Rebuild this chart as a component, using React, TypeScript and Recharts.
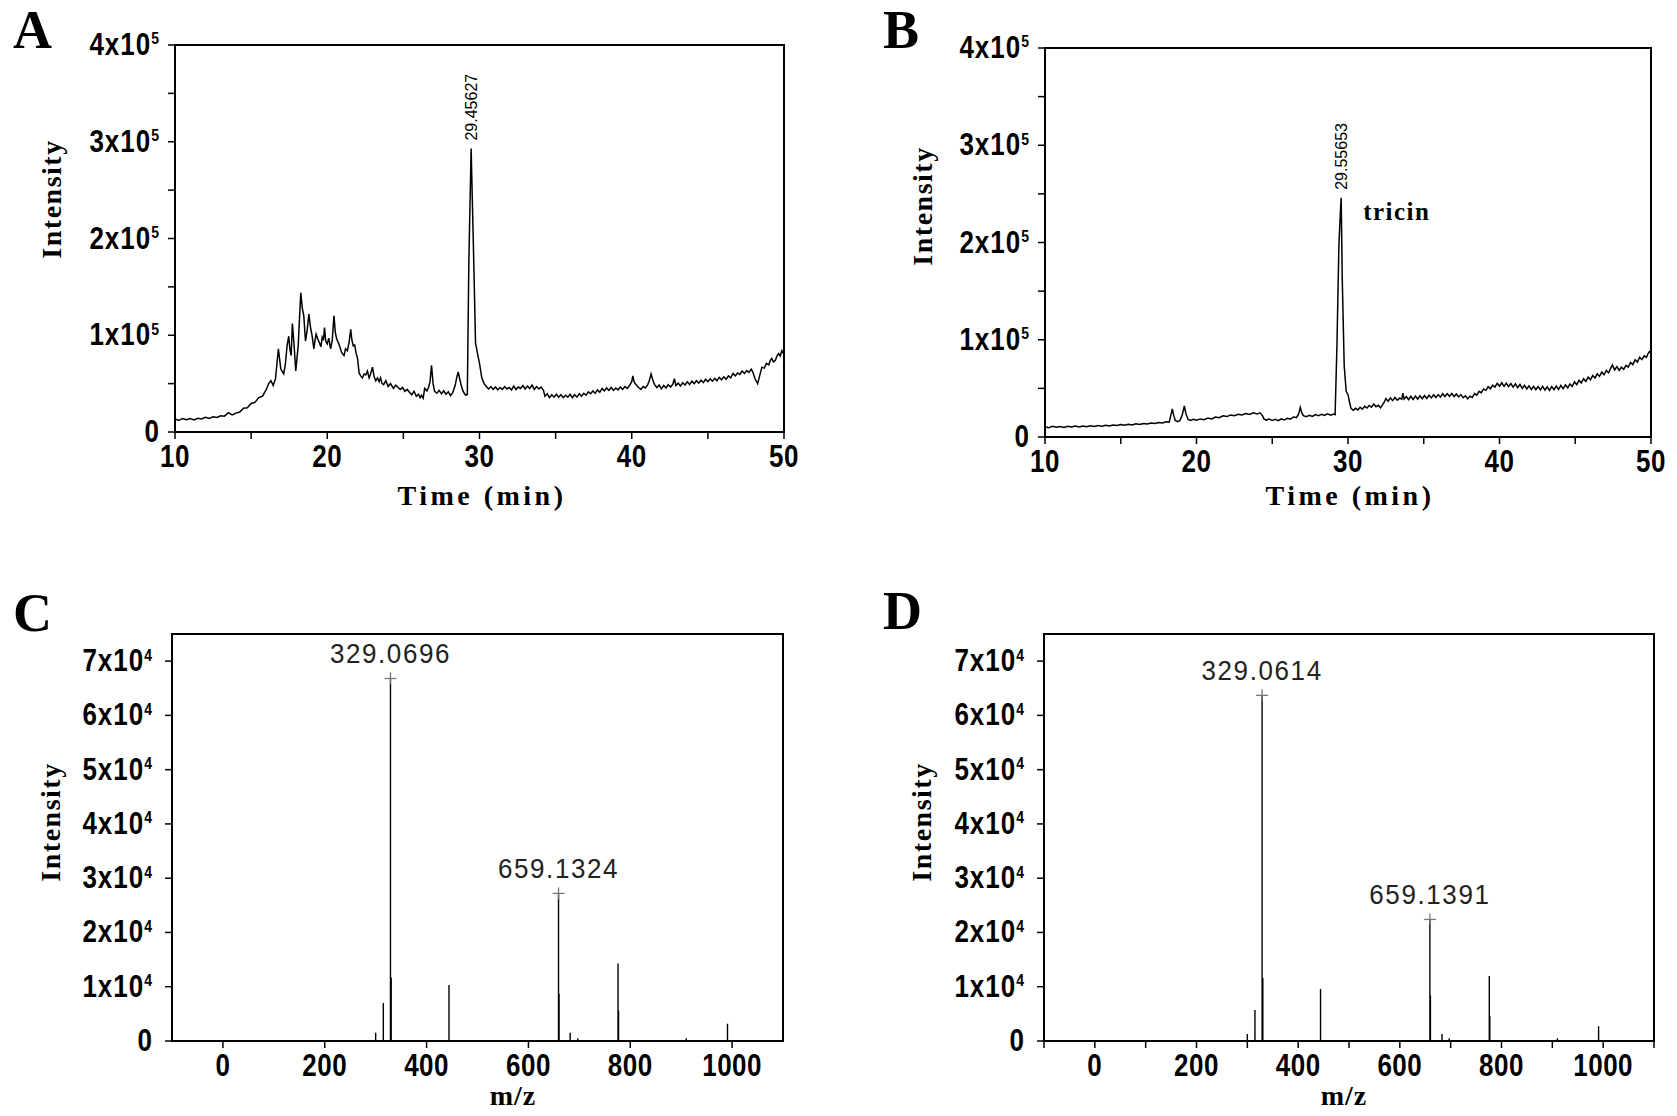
import React from "react"
import { LineChart, Line, XAxis, YAxis, ReferenceArea, ReferenceDot } from "recharts"

const SANS = "'Liberation Sans', Arial, Helvetica, sans-serif"
const SERIF = "'Liberation Serif', 'Times New Roman', Times, serif"

// ---- panel A: chromatogram (time in min, intensity in 10^3 counts)
const timeA = [
  10.0, 10.25, 10.5, 10.75, 11.0, 11.25, 11.5, 11.75, 12.0, 12.25, 12.5, 12.75, 13.0, 13.25, 13.5, 13.75,
  14.0, 14.25, 14.5, 14.75, 15.0, 15.25, 15.5, 15.75, 16.0, 16.15, 16.3, 16.45, 16.6, 16.79, 16.95, 17.14,
  17.25, 17.36, 17.47, 17.55, 17.63, 17.71, 17.82, 17.93, 18.09, 18.26, 18.36, 18.46, 18.57, 18.68, 18.79, 18.9,
  19.01, 19.12, 19.2, 19.27, 19.38, 19.49, 19.58, 19.67, 19.75, 19.82, 19.9, 20.0, 20.1, 20.22, 20.33, 20.44,
  20.53, 20.62, 20.71, 20.81, 20.95, 21.1, 21.2, 21.32, 21.43, 21.54, 21.62, 21.71, 21.8, 21.89, 22.0, 22.09,
  22.2, 22.31, 22.42, 22.53, 22.64, 22.75, 22.85, 22.97, 23.08, 23.19, 23.3, 23.41, 23.5, 23.6, 23.7, 23.85,
  24.0, 24.15, 24.35, 24.5, 24.65, 24.8, 24.95, 25.1, 25.25, 25.4, 25.55, 25.7, 25.85, 26.0, 26.1, 26.2,
  26.3, 26.4, 26.55, 26.65, 26.75, 26.85, 26.95, 27.05, 27.2, 27.35, 27.5, 27.65, 27.8, 27.95, 28.1, 28.25,
  28.4, 28.5, 28.6, 28.7, 28.8, 28.9, 29.0, 29.1, 29.2, 29.3, 29.45, 29.6, 29.74, 29.87, 30.0, 30.15,
  30.3, 30.45, 30.6, 30.75, 30.9, 31.05, 31.2, 31.35, 31.5, 31.65, 31.8, 31.95, 32.1, 32.25, 32.4, 32.55,
  32.7, 32.85, 33.0, 33.15, 33.3, 33.45, 33.6, 33.75, 33.9, 34.05, 34.2, 34.3, 34.45, 34.6, 34.75, 34.9,
  35.05, 35.2, 35.35, 35.5, 35.65, 35.8, 35.95, 36.1, 36.25, 36.4, 36.55, 36.7, 36.85, 37.0, 37.15, 37.3,
  37.45, 37.6, 37.75, 37.9, 38.05, 38.2, 38.35, 38.5, 38.65, 38.8, 38.95, 39.1, 39.25, 39.4, 39.55, 39.7,
  39.85, 40.0, 40.07, 40.15, 40.3, 40.45, 40.6, 40.75, 40.9, 41.05, 41.15, 41.27, 41.4, 41.5, 41.65, 41.8,
  41.95, 42.1, 42.25, 42.4, 42.55, 42.7, 42.8, 42.9, 43.05, 43.2, 43.35, 43.5, 43.65, 43.8, 43.95, 44.1,
  44.25, 44.4, 44.55, 44.7, 44.85, 45.0, 45.15, 45.3, 45.45, 45.6, 45.75, 45.9, 46.05, 46.2, 46.35, 46.5,
  46.65, 46.8, 46.95, 47.1, 47.25, 47.4, 47.55, 47.7, 47.85, 47.95, 48.1, 48.27, 48.4, 48.55, 48.7, 48.85,
  49.0, 49.1, 49.2, 49.3, 49.43, 49.55, 49.65, 49.75, 49.85, 49.93, 50.0,
]
const kIntA = [
  13.5, 12.0, 14.0, 12.6, 13.8, 12.5, 14.2, 13.4, 15.2, 14.0, 15.8, 15.0, 16.8, 16.4, 20.0, 17.6,
  19.5, 20.6, 24.5, 25.0, 29.5, 30.6, 35.5, 37.0, 44.0, 50.0, 53.0, 48.0, 55.0, 86.0, 65.0, 60.0,
  70.0, 89.0, 99.0, 85.0, 79.0, 112.0, 90.0, 63.0, 89.0, 144.0, 128.0, 120.0, 94.0, 105.0, 122.0, 108.0,
  99.0, 86.0, 95.0, 101.0, 96.0, 92.0, 88.0, 98.0, 95.0, 108.0, 94.0, 91.0, 97.0, 86.0, 95.0, 120.0,
  103.0, 96.0, 93.0, 89.0, 82.0, 79.0, 86.0, 84.0, 92.0, 106.0, 95.0, 89.0, 90.0, 82.0, 75.0, 61.0,
  58.0, 56.0, 60.0, 59.0, 63.0, 56.0, 60.0, 67.0, 57.0, 53.0, 56.0, 52.0, 56.0, 50.0, 49.0, 53.0,
  47.0, 50.0, 45.0, 48.5, 46.0, 44.0, 46.0, 42.0, 44.0, 41.0, 38.5, 42.0, 37.0, 39.0, 35.5, 38.0,
  35.0, 45.0, 42.5, 46.0, 52.0, 69.0, 50.0, 42.0, 40.0, 43.0, 39.5, 42.5, 39.0, 41.5, 37.5, 41.0,
  48.0, 56.0, 62.0, 55.0, 48.0, 43.0, 40.0, 38.0, 39.0, 175.0, 293.0, 192.0, 92.0, 81.0, 71.0, 56.0,
  50.0, 47.0, 44.5, 47.0, 44.0, 46.5, 43.5, 46.0, 44.0, 47.0, 44.5, 46.0, 43.5, 47.5, 44.0, 46.5,
  45.0, 48.0, 44.5, 47.5, 45.0, 48.5, 44.0, 47.0, 44.5, 46.5, 43.0, 37.0, 39.5, 35.5, 38.5, 36.0,
  39.0, 36.0, 38.5, 35.5, 38.0, 36.0, 39.0, 35.5, 38.5, 36.0, 39.5, 37.0, 40.0, 38.0, 41.5, 39.5,
  42.5, 40.0, 43.5, 41.0, 45.0, 42.5, 45.5, 43.0, 46.0, 43.0, 45.5, 43.5, 46.5, 44.0, 47.0, 45.0,
  48.0, 52.0, 58.0, 52.0, 48.5, 46.0, 44.0, 47.0, 45.5, 49.0, 53.0, 60.0, 53.0, 49.0, 46.0, 48.5,
  44.5, 48.0, 45.5, 49.0, 46.5, 49.5, 55.0, 48.0, 50.5, 47.5, 51.0, 48.5, 52.0, 49.0, 52.5, 50.0,
  53.0, 50.5, 53.5, 51.0, 54.5, 52.0, 55.0, 52.5, 55.5, 53.0, 56.5, 54.0, 57.0, 54.5, 58.0, 56.0,
  60.5, 58.0, 61.0, 59.5, 63.0, 60.5, 63.5, 61.5, 65.0, 62.0, 55.0, 50.0, 58.0, 67.0, 66.0, 71.0,
  69.5, 74.0, 76.0, 72.5, 74.0, 79.0, 81.0, 78.5, 84.0, 82.0, 86.0,
]

// ---- panel B: chromatogram (time in min, intensity in 10^3 counts)
const timeB = [
  10.0, 10.25, 10.5, 10.75, 11.0, 11.25, 11.5, 11.75, 12.0, 12.25, 12.5, 12.75, 13.0, 13.25, 13.5, 13.75,
  14.0, 14.25, 14.5, 14.75, 15.0, 15.25, 15.5, 15.75, 16.0, 16.25, 16.5, 16.75, 17.0, 17.25, 17.5, 17.75,
  18.0, 18.2, 18.3, 18.4, 18.5, 18.6, 18.75, 18.9, 19.05, 19.2, 19.3, 19.45, 19.6, 19.8, 20.0, 20.25,
  20.5, 20.75, 21.0, 21.25, 21.5, 21.75, 22.0, 22.25, 22.5, 22.75, 23.0, 23.25, 23.5, 23.75, 24.0, 24.2,
  24.35, 24.45, 24.6, 24.8, 25.0, 25.2, 25.4, 25.6, 25.8, 26.0, 26.2, 26.4, 26.6, 26.75, 26.85, 26.95,
  27.05, 27.25, 27.45, 27.65, 27.85, 28.05, 28.25, 28.45, 28.65, 28.85, 29.05, 29.15, 29.27, 29.4, 29.5, 29.55,
  29.62, 29.75, 29.88, 30.0, 30.1, 30.2, 30.35, 30.5, 30.65, 30.8, 30.95, 31.1, 31.25, 31.4, 31.55, 31.7,
  31.85, 32.0, 32.15, 32.3, 32.4, 32.5, 32.65, 32.8, 32.95, 33.1, 33.25, 33.4, 33.55, 33.62, 33.7, 33.85,
  34.0, 34.15, 34.3, 34.45, 34.6, 34.75, 34.9, 35.05, 35.2, 35.35, 35.5, 35.65, 35.8, 35.95, 36.1, 36.25,
  36.4, 36.55, 36.7, 36.85, 37.0, 37.15, 37.3, 37.45, 37.6, 37.75, 37.9, 38.05, 38.2, 38.35, 38.5, 38.65,
  38.8, 38.95, 39.1, 39.25, 39.4, 39.55, 39.7, 39.85, 40.0, 40.15, 40.3, 40.45, 40.6, 40.75, 40.9, 41.05,
  41.2, 41.35, 41.5, 41.65, 41.8, 41.95, 42.1, 42.25, 42.4, 42.55, 42.7, 42.85, 43.0, 43.15, 43.3, 43.45,
  43.6, 43.75, 43.9, 44.05, 44.2, 44.35, 44.5, 44.65, 44.8, 44.95, 45.1, 45.25, 45.4, 45.55, 45.7, 45.85,
  46.0, 46.15, 46.3, 46.45, 46.6, 46.75, 46.9, 47.05, 47.2, 47.35, 47.45, 47.6, 47.75, 47.9, 48.05, 48.2,
  48.35, 48.5, 48.65, 48.8, 48.95, 49.1, 49.25, 49.4, 49.55, 49.7, 49.8, 49.9, 50.0,
]
const kIntB = [
  10.5, 9.6, 11.0, 10.0, 10.8, 9.8, 11.0, 10.2, 11.2, 10.3, 11.3, 10.6, 11.5, 10.8, 11.8, 11.0,
  12.0, 11.4, 12.4, 11.8, 12.8, 12.0, 13.0, 12.4, 13.5, 12.8, 13.9, 13.3, 14.4, 13.8, 15.0, 14.4,
  15.6, 15.2, 22.0, 29.0, 22.0, 17.0, 15.8, 16.8, 22.0, 32.0, 24.0, 18.0, 17.0, 18.2, 17.2, 18.6,
  17.8, 19.4, 18.6, 20.5, 19.8, 21.8, 21.0, 22.6, 21.8, 23.4, 22.6, 24.2, 23.2, 24.8, 23.8, 24.8,
  22.0, 18.6, 17.4, 18.4, 17.0, 18.2, 16.8, 18.6, 17.6, 19.2, 18.4, 20.6, 20.0, 24.0, 30.4, 25.0,
  22.0, 20.8, 22.4, 21.2, 23.0, 21.8, 23.4, 22.2, 23.8, 22.4, 23.6, 23.0, 93.7, 197.5, 232.0, 246.0,
  163.0, 73.0, 47.0, 43.5, 36.0, 29.5, 27.5, 29.5, 27.8, 30.5, 28.6, 31.5, 29.8, 32.4, 30.6, 34.0,
  31.2, 32.6, 30.0, 33.5, 36.0, 39.5, 36.8, 40.2, 37.4, 40.6, 37.8, 40.0, 39.0, 45.0, 39.0, 41.6,
  38.4, 41.8, 38.6, 42.0, 38.8, 42.4, 39.4, 42.6, 39.6, 43.0, 40.2, 43.4, 40.6, 43.6, 41.0, 44.4,
  41.6, 44.6, 41.8, 44.8, 41.6, 44.2, 41.2, 43.6, 40.4, 42.4, 39.2, 42.0, 40.6, 44.6, 43.0, 47.0,
  45.6, 49.4, 47.8, 51.8, 49.6, 53.4, 51.4, 55.2, 52.2, 55.8, 52.0, 55.4, 51.8, 55.0, 51.2, 54.6,
  50.8, 54.0, 50.0, 53.2, 49.4, 52.6, 48.8, 52.2, 48.6, 51.8, 48.4, 52.0, 48.2, 51.6, 48.0, 51.8,
  48.6, 52.4, 49.0, 53.0, 49.8, 53.6, 50.6, 54.6, 52.0, 56.6, 53.8, 58.2, 55.6, 60.0, 57.2, 61.6,
  58.8, 63.2, 60.6, 65.0, 62.4, 66.8, 64.0, 68.4, 66.0, 71.0, 74.0, 69.0, 72.4, 68.6, 71.8, 69.6,
  73.6, 71.8, 76.6, 74.4, 79.4, 77.0, 82.0, 79.6, 83.4, 81.8, 85.6, 88.0, 86.0,
]

// ---- panels C, D: mass spectra (m/z, intensity in counts)
const mzC = [300, 315, 329.0696, 330.5, 444, 659.1324, 660.2, 682, 697, 776, 777, 910, 991]
const intC = [1500, 7000, 66800, 11700, 10300, 27200, 8700, 1500, 500, 14300, 5600, 500, 3200]
const mzD = [300, 315, 329.0614, 330.5, 444, 659.1391, 660.2, 683, 697, 776, 777, 910, 991]
const intD = [1300, 5700, 63700, 11600, 9600, 22400, 8400, 1300, 500, 12000, 4600, 500, 2700]

const timeTicks = [10, 15, 20, 25, 30, 35, 40, 45, 50]
const chromYTicks = [0, 50000, 100000, 150000, 200000, 250000, 300000, 350000, 400000]
const mzTicksC = [0, 200, 400, 600, 800, 1000]
const mzTicksD = [-100, 0, 100, 200, 300, 400, 500, 600, 700, 800, 900, 1000, 1100]
const specYTicks = [0, 10000, 20000, 30000, 40000, 50000, 60000, 70000]

const chromA = timeA.map((t, k) => ({ t, i: kIntA[k] * 1000 }))
const chromB = timeB.map((t, k) => ({ t, i: kIntB[k] * 1000 }))

function spikes(mz: number[], inten: number[]) {
  const out: { mz: number; i: number }[] = []
  mz.forEach((m, k) => {
    out.push({ mz: m, i: 0 }, { mz: m, i: inten[k] }, { mz: m, i: 0 })
  })
  return out
}
const specC = spikes(mzC, intC)
const specD = spikes(mzD, intD)

// tick labels like 4x10^5, only on the labelled ticks
function SciTick(props: any) {
  const { x, y, payload, exp, every } = props
  const v = payload.value
  if (v % every !== 0) return null
  const n = Math.round(v / Math.pow(10, exp))
  return (
    <text
      transform={`translate(${x},${y + 10}) scale(1,1.18)`}
      textAnchor="end"
      fontFamily={SANS}
      fontWeight={700}
      fontSize={26}
      letterSpacing={1}
      fill="#000"
    >
      {n === 0 ? (
        "0"
      ) : (
        <>
          {n}x10
          <tspan dy={-9} fontSize={14}>
            {exp}
          </tspan>
        </>
      )}
    </text>
  )
}

function NumTick(props: any) {
  const { x, y, payload, every } = props
  if (payload.value % every !== 0) return null
  return (
    <text
      transform={`translate(${x},${y + 20}) scale(1,1.18)`}
      textAnchor="middle"
      fontFamily={SANS}
      fontWeight={700}
      fontSize={26}
      letterSpacing={0.5}
      fill="#000"
    >
      {payload.value}
    </text>
  )
}

const rotLabel = (text: string) => (p: any) => (
  <text
    x={p.cx}
    y={p.cy - 8}
    transform={`rotate(-90 ${p.cx} ${p.cy - 8})`}
    fontFamily={SANS}
    fontSize={16}
    dominantBaseline="central"
    fill="#000"
  >
    {text}
  </text>
)

const massLabel = (text: string) => (p: any) => (
  <g>
    <line x1={p.cx - 6} x2={p.cx + 6} y1={p.cy} y2={p.cy} stroke="#777" strokeWidth={1.3} />
    <line x1={p.cx} x2={p.cx} y1={p.cy - 6} y2={p.cy + 6} stroke="#777" strokeWidth={1.3} />
    <text
      transform={`translate(${p.cx},${p.cy - 15}) scale(1,1.08)`}
      textAnchor="middle"
      fontFamily={SANS}
      fontSize={26}
      letterSpacing={1.6}
      fill="#222"
    >
      {text}
    </text>
  </g>
)

const tricinLabel = (p: any) => (
  <text x={p.cx} y={p.cy} fontFamily={SERIF} fontWeight={700} fontSize={25} letterSpacing={1.5} fill="#000">
    tricin
  </text>
)

const axisLine = { stroke: "#000", strokeWidth: 2 }
const tickLine = { stroke: "#000", strokeWidth: 1.5 }

type Rect = { l: number; r: number; t: number; b: number }

function Chromatogram(props: {
  left: number
  top: number
  width: number
  height: number
  plot: Rect
  data: { t: number; i: number }[]
  peakT: number
  peakI: number
  peakText: string
  tricin?: boolean
}) {
  const { left, top, width, height, plot, data } = props
  return (
    <div style={{ position: "absolute", left, top }}>
      <LineChart
        width={width}
        height={height}
        data={data}
        margin={{ top: plot.t, right: width - plot.r, bottom: 0, left: 0 }}
      >
        <XAxis
          dataKey="t"
          type="number"
          domain={[10, 50]}
          ticks={timeTicks}
          interval={0}
          allowDataOverflow
          height={height - plot.b}
          tickSize={7}
          tickMargin={8}
          axisLine={axisLine}
          tickLine={tickLine}
          tick={<NumTick every={10} />}
        />
        <YAxis
          type="number"
          domain={[0, 400000]}
          ticks={chromYTicks}
          interval={0}
          allowDataOverflow
          width={plot.l}
          tickSize={7}
          tickMargin={8}
          axisLine={axisLine}
          tickLine={tickLine}
          tick={<SciTick exp={5} every={100000} />}
        />
        <ReferenceArea x1={10} x2={50} y1={0} y2={400000} fill="none" stroke="#000" strokeWidth={2} />
        <Line dataKey="i" type="linear" stroke="#000" strokeWidth={1.5} dot={false} isAnimationActive={false} />
        <ReferenceDot x={props.peakT} y={props.peakI} r={0} shape={rotLabel(props.peakText)} />
        {props.tricin && <ReferenceDot x={31} y={223000} r={0} shape={tricinLabel} />}
      </LineChart>
    </div>
  )
}

function Spectrum(props: {
  left: number
  top: number
  width: number
  height: number
  plot: Rect
  data: { mz: number; i: number }[]
  xTicks: number[]
  peaks: { mz: number; i: number; text: string }[]
}) {
  const { left, top, width, height, plot, data } = props
  return (
    <div style={{ position: "absolute", left, top }}>
      <LineChart
        width={width}
        height={height}
        data={data}
        margin={{ top: plot.t, right: width - plot.r, bottom: 0, left: 0 }}
      >
        <XAxis
          dataKey="mz"
          type="number"
          domain={[-100, 1100]}
          ticks={props.xTicks}
          interval={0}
          allowDataOverflow
          height={height - plot.b}
          tickSize={7}
          tickMargin={8}
          axisLine={axisLine}
          tickLine={tickLine}
          tick={<NumTick every={200} />}
        />
        <YAxis
          type="number"
          domain={[0, 75000]}
          ticks={specYTicks}
          interval={0}
          allowDataOverflow
          width={plot.l}
          tickSize={7}
          tickMargin={12}
          axisLine={axisLine}
          tickLine={tickLine}
          tick={<SciTick exp={4} every={10000} />}
        />
        <ReferenceArea x1={-100} x2={1100} y1={0} y2={75000} fill="none" stroke="#000" strokeWidth={2} />
        <Line dataKey="i" type="linear" stroke="#000" strokeWidth={1.4} dot={false} isAnimationActive={false} />
        {props.peaks.map((p) => (
          <ReferenceDot key={p.text} x={p.mz} y={p.i} r={0} shape={massLabel(p.text)} />
        ))}
      </LineChart>
    </div>
  )
}

const panelLetter = { fontFamily: SERIF, fontWeight: 700, fontSize: 54 } as const
const axisTitle = { fontFamily: SERIF, fontWeight: 700, fontSize: 28 } as const

export default function App() {
  return (
    <div style={{ position: "absolute", left: 0, top: 0, width: 1677, height: 1116, background: "#fff" }}>
      <Chromatogram
        left={0}
        top={0}
        width={840}
        height={540}
        plot={{ l: 175, r: 784, t: 45, b: 432 }}
        data={chromA}
        peakT={29.45}
        peakI={293000}
        peakText="29.45627"
      />
      <Chromatogram
        left={840}
        top={0}
        width={837}
        height={540}
        plot={{ l: 205, r: 811, t: 48, b: 437 }}
        data={chromB}
        peakT={29.55}
        peakI={246000}
        peakText="29.55653"
        tricin
      />
      <Spectrum
        left={0}
        top={560}
        width={840}
        height={556}
        plot={{ l: 172, r: 783, t: 74, b: 481 }}
        data={specC}
        xTicks={mzTicksC}
        peaks={[
          { mz: mzC[2], i: intC[2], text: "329.0696" },
          { mz: mzC[5], i: intC[5], text: "659.1324" },
        ]}
      />
      <Spectrum
        left={840}
        top={560}
        width={837}
        height={556}
        plot={{ l: 204, r: 814, t: 74, b: 481 }}
        data={specD}
        xTicks={mzTicksD}
        peaks={[
          { mz: mzD[2], i: intD[2], text: "329.0614" },
          { mz: mzD[5], i: intD[5], text: "659.1391" },
        ]}
      />
      <svg width={1677} height={1116} style={{ position: "absolute", left: 0, top: 0, pointerEvents: "none" }}>
        <text x={13} y={48} {...panelLetter}>A</text>
        <text x={883} y={48} {...panelLetter}>B</text>
        <text x={13} y={631} {...panelLetter}>C</text>
        <text x={883} y={629} {...panelLetter}>D</text>

        <text transform="translate(51,199) rotate(-90)" textAnchor="middle" dominantBaseline="central" letterSpacing={1.5} {...axisTitle}>Intensity</text>
        <text transform="translate(922,206) rotate(-90)" textAnchor="middle" dominantBaseline="central" letterSpacing={1.5} {...axisTitle}>Intensity</text>
        <text transform="translate(50,822) rotate(-90)" textAnchor="middle" dominantBaseline="central" letterSpacing={1.5} {...axisTitle}>Intensity</text>
        <text transform="translate(921,822) rotate(-90)" textAnchor="middle" dominantBaseline="central" letterSpacing={1.5} {...axisTitle}>Intensity</text>

        <text x={482} y={505} textAnchor="middle" letterSpacing={3.5} {...axisTitle}>Time (min)</text>
        <text x={1350} y={505} textAnchor="middle" letterSpacing={3.5} {...axisTitle}>Time (min)</text>
        <text x={513} y={1105} textAnchor="middle" letterSpacing={1} {...axisTitle}>m/z</text>
        <text x={1344} y={1105} textAnchor="middle" letterSpacing={1} {...axisTitle}>m/z</text>
      </svg>
    </div>
  )
}
